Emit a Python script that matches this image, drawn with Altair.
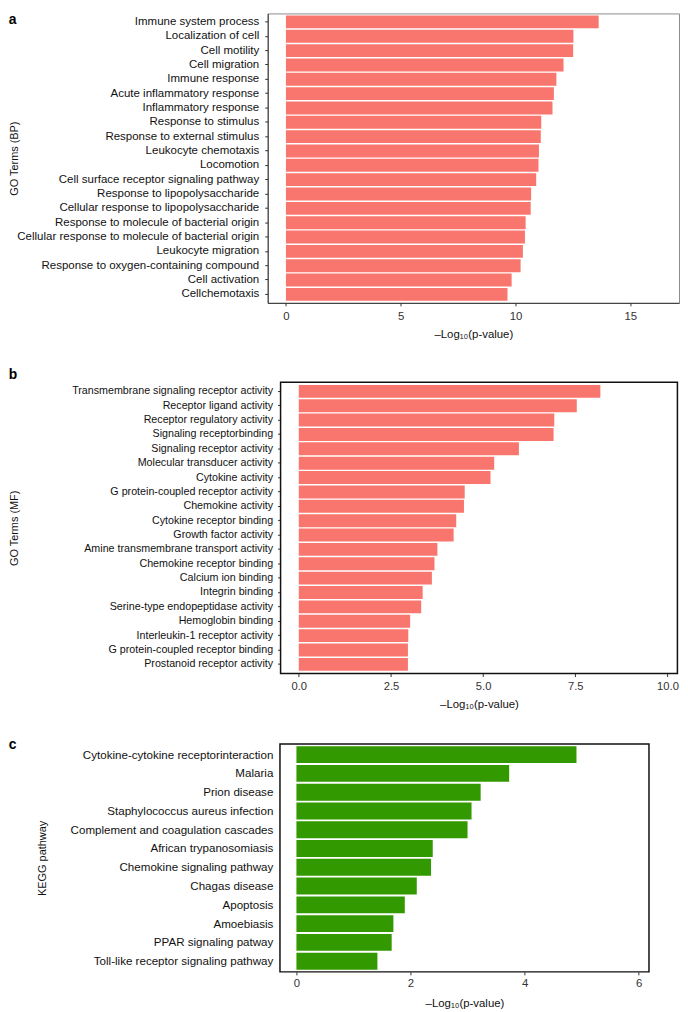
import altair as alt
import pandas as pd

FONT = "Liberation Sans"

bp_terms = ["Immune system process", "Localization of cell", "Cell motility", "Cell migration",
            "Immune response", "Acute inflammatory response", "Inflammatory response",
            "Response to stimulus", "Response to external stimulus", "Leukocyte chemotaxis",
            "Locomotion", "Cell surface receptor signaling pathway", "Response to lipopolysaccharide",
            "Cellular response to lipopolysaccharide", "Response to molecule of bacterial origin",
            "Cellular response to molecule of bacterial origin", "Leukocyte migration",
            "Response to oxygen-containing compound", "Cell activation", "Cellchemotaxis"]
bp_values = [13.62, 12.52, 12.51, 12.09, 11.78, 11.67, 11.61, 11.12, 11.10, 11.02,
             11.00, 10.90, 10.68, 10.66, 10.44, 10.41, 10.32, 10.22, 9.83, 9.65]

mf_terms = ["Transmembrane signaling receptor activity", "Receptor ligand activity",
            "Receptor regulatory activity", "Signaling receptorbinding", "Signaling receptor activity",
            "Molecular transducer activity", "Cytokine activity", "G protein-coupled receptor activity",
            "Chemokine activity", "Cytokine receptor binding", "Growth factor activity",
            "Amine transmembrane transport activity", "Chemokine receptor binding", "Calcium ion binding",
            "Integrin binding", "Serine-type endopeptidase activity", "Hemoglobin binding",
            "Interleukin-1 receptor activity", "G protein-coupled receptor binding",
            "Prostanoid receptor activity"]
mf_values = [8.18, 7.54, 6.93, 6.91, 5.97, 5.30, 5.20, 4.50, 4.48, 4.27,
             4.20, 3.76, 3.68, 3.61, 3.36, 3.32, 3.02, 2.97, 2.96, 2.96]

kegg_terms = ["Cytokine-cytokine receptorinteraction", "Malaria", "Prion disease",
              "Staphylococcus aureus infection", "Complement and coagulation cascades",
              "African trypanosomiasis", "Chemokine signaling pathway", "Chagas disease",
              "Apoptosis", "Amoebiasis", "PPAR signaling patway", "Toll-like receptor signaling pathway"]
kegg_values = [4.91, 3.73, 3.23, 3.07, 3.00, 2.39, 2.36, 2.11, 1.90, 1.70, 1.67, 1.42]

XTITLE = "\u2013Log\u2081\u2080(p-value)"
LETTER_X = -261.3


def panel(terms, values, color, letter, ytitle, width, height, inset, xdomain, xticks, xfmt,
          po, label_size, ytick, ylabpad, title_x, letter_y, xlab_size, xlab_pad,
          framed, frame_color, frame_width):
    df = pd.DataFrame({"term": terms, "value": values})
    bars = alt.Chart(df).mark_bar(color=color).encode(
        x=alt.X("value:Q",
                scale=alt.Scale(domain=xdomain, nice=False, zero=False),
                axis=alt.Axis(values=xticks, format=xfmt, title=XTITLE, grid=False,
                              domain=not framed, domainColor="#333333",
                              tickSize=3, tickColor="#333333", labelPadding=xlab_pad,
                              labelFont=FONT, labelFontSize=xlab_size, labelColor="#333333",
                              titleFont=FONT, titleFontSize=11.5, titleFontWeight="normal",
                              titleColor="#111111", titleX=(inset + width) / 2, titleY=31.5,
                              titleBaseline="middle", titleAlign="center")),
        x2=alt.datum(0),
        y=alt.Y("term:N", sort=terms,
                scale=alt.Scale(paddingInner=0.1, paddingOuter=po),
                axis=alt.Axis(title=ytitle, domain=not framed, domainColor="#333333",
                              ticks=ytick > 0, tickSize=ytick, tickColor="#333333",
                              labelPadding=ylabpad, labelLimit=400, offset=-inset,
                              labelFont=FONT, labelFontSize=label_size, labelColor="#111111",
                              titleFont=FONT, titleFontSize=11, titleFontWeight="normal",
                              titleColor="#111111", titleX=title_x, titleBaseline="middle")),
    )
    lab = alt.Chart(pd.DataFrame({"t": [letter]})).mark_text(
        align="left", baseline="alphabetic", font=FONT, fontSize=14, fontWeight="bold",
        color="#000000"
    ).encode(text="t:N", x=alt.value(LETTER_X), y=alt.value(letter_y))
    layers = [bars, lab]
    if framed:
        frame = alt.Chart(pd.DataFrame({"f": [1]})).mark_rect(
            fillOpacity=0, stroke=frame_color, strokeWidth=frame_width
        ).encode(x=alt.value(inset), x2=alt.value(width), y=alt.value(0), y2=alt.value(height))
        layers.append(frame)
        view = alt.ViewBackground(strokeOpacity=0)
    else:
        view = alt.ViewBackground(stroke=frame_color, strokeWidth=frame_width)
    return alt.layer(*layers).properties(width=width, height=height, view=view)


# panel a: plot area x 269.3-684.3, y ~8.5-300.5
pa = panel(bp_terms, bp_values, "#F8766D", "a", "GO Terms (BP)", 415, 292, 0,
           [-0.795, 17.12], [0, 5, 10, 15], "d", 0.14, 11.6, 3, 6,
           -255.3, 11, 11.5, 4.5, False, "#8c8c8c", 1)
# panel b: visible plot x 282.3-682.7, y 379.3-673.3
pb = panel(mf_terms, mf_values, "#F8766D", "b", "GO Terms (MF)", 413.4, 294, 13,
           [-0.844, 10.27], [0, 2.5, 5, 7.5, 10], ".1f", 0.19, 10.8, 3, 5,
           -268.3, -2.8, 11.3, 3.6, True, "#111111", 1.5)
# panel c: visible plot x 281.7-654, y 744-974
pc = panel(kegg_terms, kegg_values, "#339900", "c", "KEGG pathway", 384.7, 230, 12.4,
           [-0.504, 6.181], [0, 2, 4, 6], "d", 0.12, 11.7, 0, 7.2,
           -239.7, 5.3, 11.5, 3, True, "#111111", 1.5)

chart = alt.concat(pa, pb, pc, columns=1, spacing=28).properties(
    padding={"left": 0, "top": 0, "right": 0, "bottom": 0}
).configure(font=FONT)

chart.save("out.html", embed_options={"renderer": "svg", "actions": False})
